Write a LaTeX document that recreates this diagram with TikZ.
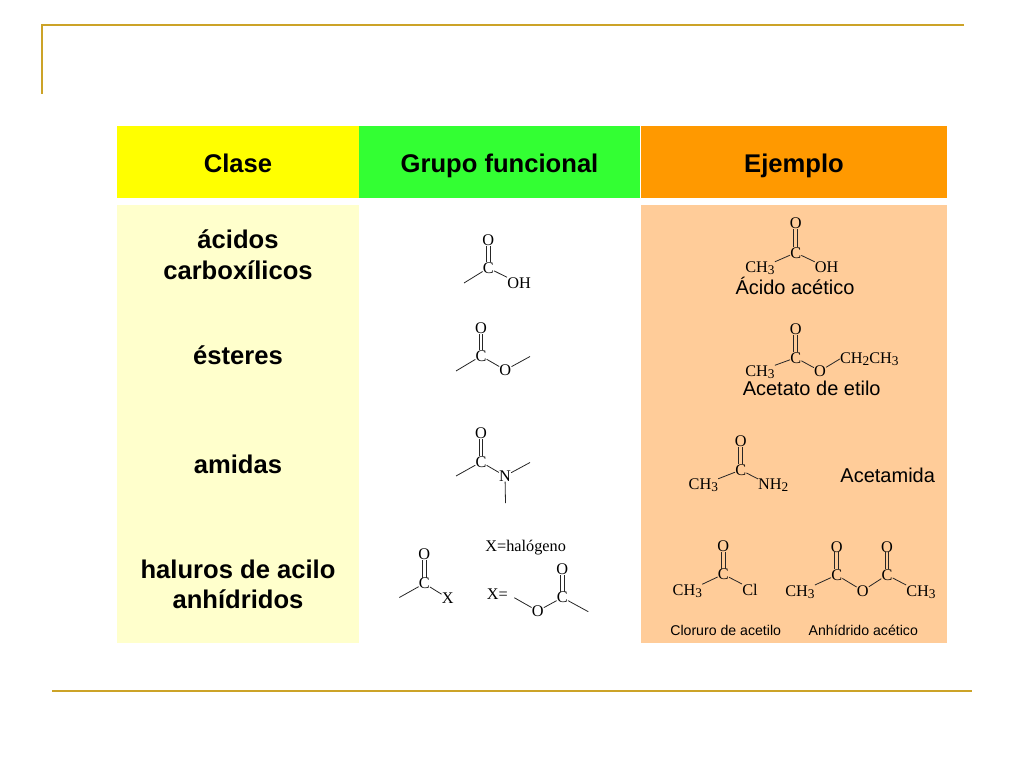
\documentclass[tikz,border=0pt]{standalone}
\usepackage{fontspec}
\setmainfont{Liberation Sans}
\newfontfamily\chemfont{Liberation Serif}
\newcommand{\atomsub}[1]{\raisebox{-1.5pt}{\fontsize{10}{10}\selectfont #1}}
\newcommand{\carbonyl}[2]{%
    \draw[bond, transform canvas={xshift=-1.4pt}] (#1) -- (#2);
    \draw[bond, transform canvas={xshift=1.4pt}] (#1) -- (#2);}
\definecolor{gold}{HTML}{CCA328}
\definecolor{headyellow}{HTML}{FFFF00}
\definecolor{headgreen}{HTML}{33FF33}
\definecolor{headorange}{HTML}{FF9900}
\definecolor{bodyyellow}{HTML}{FFFFCC}
\definecolor{bodyorange}{HTML}{FFCC99}
\tikzset{
    rulebar/.style={draw=gold, line width=2.1pt},
    cell/.style={inner sep=0pt, outer sep=0pt, minimum height=#1*0.75pt},
    cell/.default=72,
    title/.style={font=\fontsize{19.2}{23}\selectfont\bfseries, align=center},
    headtitle/.style={title, anchor=base},
    caption/.style={font=\fontsize{15}{18}\selectfont, inner sep=0pt},
    smallcap/.style={font=\fontsize{10.6}{12}\selectfont, inner sep=0pt},
    atom/.style={font=\chemfont\fontsize{12.2}{12}\selectfont, inner sep=0pt},
    bond/.style={line width=0.6pt, black!85},
}
\begin{document}
\begin{tikzpicture}[x=0.75pt,y=-0.75pt]
    \useasboundingbox (0,0) rectangle (1024,768);

    % slide frame
    \coordinate (topl) at (42,25);
    \coordinate (topr) at (964,25);
    \coordinate (leftb) at (42,94);
    \coordinate (botl) at (52,691);
    \coordinate (botr) at (972,691);
    \draw[rulebar] (topr) -- (topl) -- (leftb);
    \draw[rulebar] (botl) -- (botr);

    % table cells
    \node[cell, fill=headyellow, minimum width=241.5*0.75pt] (headclase) at (237.75,162) {};
    \node[cell, fill=headgreen, minimum width=281.5*0.75pt] (headgrupo) at (499.5,162) {};
    \node[cell, fill=headorange, minimum width=306.5*0.75pt] (headejemplo) at (793.75,162) {};
    \node[cell=438, fill=bodyyellow, minimum width=241.5*0.75pt] (bodyclase) at (237.75,424) {};
    \node[cell=438, fill=bodyorange, minimum width=306.5*0.75pt] (bodyejemplo) at (793.75,424) {};

    \node[headtitle] (tclase) at (238,172) {Clase};
    \node[headtitle] (tgrupo) at (499.5,172) {Grupo funcional};
    \node[headtitle] (tejemplo) at (794,172) {Ejemplo};

    \node[title] (acidos) at (238,255) {ácidos\\carboxílicos};
    \node[title] (esteres) at (238,355) {ésteres};
    \node[title] (amidas) at (238,464.5) {amidas};
    \node[title] (haluros) at (238,584.5) {haluros de acilo\\anhídridos};

    % grupo funcional: acido
    \node[atom] (ao) at (488.3,240) {O};
    \node[atom] (ac) at (488.3,268) {C};
    \node[atom] (aoh) at (519,283) {OH};
    \coordinate (afree) at (464,283);
    \carbonyl{ao}{ac}
    \draw[bond] (afree) -- (ac);
    \draw[bond] (ac) -- (aoh.north west);

    % grupo funcional: ester
    \node[atom] (eo) at (481,328.5) {O};
    \node[atom] (ec) at (481,356) {C};
    \node[atom] (eo2) at (505.3,370) {O};
    \coordinate (efree) at (456,371);
    \coordinate (efree2) at (530,356.5);
    \carbonyl{eo}{ec}
    \draw[bond] (efree) -- (ec);
    \draw[bond] (ec) -- (eo2);
    \draw[bond] (eo2) -- (efree2);

    % grupo funcional: amida
    \node[atom] (mo) at (481,433) {O};
    \node[atom] (mc) at (481,462) {C};
    \node[atom] (mn) at (505,476) {N};
    \coordinate (mfree) at (456,476);
    \coordinate (mfree2) at (530,462.5);
    \coordinate (mfree3) at (505.5,503);
    \carbonyl{mo}{mc}
    \draw[bond] (mfree) -- (mc);
    \draw[bond] (mc) -- (mn);
    \draw[bond] (mn) -- (mfree2);
    \draw[bond] (mn) -- (mfree3);

    % grupo funcional: haluro
    \node[atom] (ho) at (424.3,554.5) {O};
    \node[atom] (hc) at (424.3,583.5) {C};
    \node[atom] (hx) at (447.7,598) {X};
    \coordinate (hfree) at (399.3,597.5);
    \carbonyl{ho}{hc}
    \draw[bond] (hfree) -- (hc);
    \draw[bond] (hc) -- (hx);

    \node[atom] (halogeno) at (525.7,547.3) {X=halógeno};
    \node[atom] (xeq) at (497.3,594) {X=};

    % grupo funcional: anhidrido
    \node[atom] (xo) at (537.7,611) {O};
    \node[atom] (xc) at (562.3,597.5) {C};
    \node[atom] (xo2) at (562.3,569.5) {O};
    \coordinate (xfree) at (514.3,597.7);
    \coordinate (xfree2) at (588.3,611.7);
    \draw[bond] (xfree) -- (xo);
    \draw[bond] (xo) -- (xc);
    \carbonyl{xo2}{xc}
    \draw[bond] (xc) -- (xfree2);

    % ejemplo: acido acetico
    \node[atom] (bo) at (795.7,223.5) {O};
    \node[atom] (bc) at (795.7,252.7) {C};
    \node[atom] (bch) at (760,268.5) {CH\atomsub{3}};
    \node[atom] (boh) at (826.7,267.5) {OH};
    \carbonyl{bo}{bc}
    \draw[bond] (bch.north east) -- (bc);
    \draw[bond] (bc) -- (boh.north west);
    \node[caption] (ccacido) at (795,286) {Ácido acético};

    % ejemplo: acetato de etilo
    \node[atom] (fo) at (795.7,329) {O};
    \node[atom] (fc) at (795.7,357.7) {C};
    \node[atom] (fch) at (760,372) {CH\atomsub{3}};
    \node[atom] (fo2) at (820,371) {O};
    \node[atom] (fet) at (869.3,359) {CH\atomsub{2}CH\atomsub{3}};
    \carbonyl{fo}{fc}
    \draw[bond] (fch.north east) -- (fc);
    \draw[bond] (fc) -- (fo2);
    \draw[bond] (fo2) -- (fet.west);
    \node[caption] (ccester) at (811.7,388.5) {Acetato de etilo};

    % ejemplo: acetamida
    \node[atom] (go) at (740.7,441) {O};
    \node[atom] (gc) at (740.7,470) {C};
    \node[atom] (gch) at (703.3,485.5) {CH\atomsub{3}};
    \node[atom] (gnh) at (773.3,485.5) {NH\atomsub{2}};
    \carbonyl{go}{gc}
    \draw[bond] (gch.north east) -- (gc);
    \draw[bond] (gc) -- (gnh.north west);
    \node[caption] (ccamida) at (887.7,475.7) {Acetamida};

    % ejemplo: cloruro de acetilo
    \node[atom] (lo) at (723.3,546) {O};
    \node[atom] (lc) at (723.3,574.3) {C};
    \node[atom] (lch) at (687.3,591) {CH\atomsub{3}};
    \node[atom] (lcl) at (750,590) {Cl};
    \carbonyl{lo}{lc}
    \draw[bond] (lch.north east) -- (lc);
    \draw[bond] (lc) -- (lcl.north west);
    \node[smallcap] (cccloruro) at (725.7,630) {Cloruro de acetilo};

    % ejemplo: anhidrido acetico
    \node[atom] (no1) at (836.7,546.7) {O};
    \node[atom] (nc1) at (836.7,575) {C};
    \node[atom] (nch1) at (800,591.7) {CH\atomsub{3}};
    \node[atom] (no) at (862.7,590.7) {O};
    \node[atom] (nc2) at (887,575) {C};
    \node[atom] (no2) at (887,546.7) {O};
    \node[atom] (nch2) at (921,591.7) {CH\atomsub{3}};
    \carbonyl{no1}{nc1}
    \carbonyl{no2}{nc2}
    \draw[bond] (nch1.north east) -- (nc1);
    \draw[bond] (nc1) -- (no);
    \draw[bond] (no) -- (nc2);
    \draw[bond] (nc2) -- (nch2.north west);
    \node[smallcap] (ccanhidrido) at (863.3,630) {Anhídrido acético};
\end{tikzpicture}
\end{document}
